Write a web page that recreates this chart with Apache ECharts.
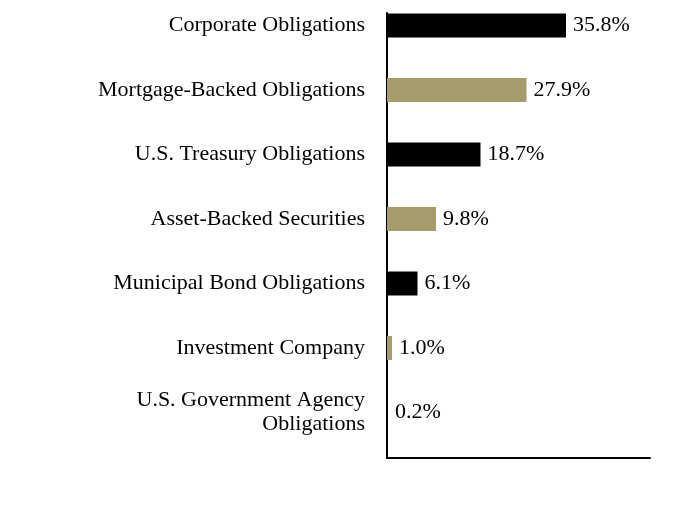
<!DOCTYPE html>
<html>
<head>
<meta charset="utf-8">
<script src="https://cdn.jsdelivr.net/npm/echarts@6/dist/echarts.min.js"></script>
<style>
  html, body { margin: 0; padding: 0; background: #fff; }
  #chart { width: 684px; height: 528px; }
</style>
</head>
<body>
<div id="chart"></div>
<script>
  // holdings by sector, % of total
  var categories = [
    'Corporate Obligations',
    'Mortgage-Backed Obligations',
    'U.S. Treasury Obligations',
    'Asset-Backed Securities',
    'Municipal Bond Obligations',
    'Investment Company',
    'U.S. Government Agency\nObligations'
  ];
  var values = [35.8, 27.9, 18.7, 9.8, 6.1, 1.0, 0.2];
  var barColors = ['#000000', '#A69B6B', '#000000', '#A69B6B', '#000000', '#A69B6B', '#000000'];

  var font = '"Liberation Serif", "DejaVu Serif", serif';

  var chart = echarts.init(document.getElementById('chart'));
  chart.setOption({
    animation: false,
    grid: [
      // bars
      { left: 387, top: -6.75, width: 263, height: 451.5, outerBoundsMode: 'none', containLabel: false },
      // frame lines (left + bottom)
      { left: 387, top: 13, width: 263, height: 445, outerBoundsMode: 'none', containLabel: false }
    ],
    xAxis: [
      {
        gridIndex: 0, type: 'value', min: 0, max: 52.6,
        axisLine: { show: false }, axisTick: { show: false },
        axisLabel: { show: false }, splitLine: { show: false }
      },
      {
        gridIndex: 1, type: 'value', min: 0, max: 1,
        axisLine: { show: true, lineStyle: { color: '#000', width: 2 } },
        axisTick: { show: false }, axisLabel: { show: false }, splitLine: { show: false }
      }
    ],
    yAxis: [
      {
        gridIndex: 0, type: 'category', inverse: true, data: categories,
        axisLine: { show: false }, axisTick: { show: false },
        axisLabel: {
          margin: 22, color: '#000', fontFamily: font, fontSize: 22,
          lineHeight: 24, align: 'right', padding: [6, 0, 0, 0]
        }
      },
      {
        gridIndex: 1, type: 'value', min: 0, max: 1,
        axisLine: { show: true, lineStyle: { color: '#000', width: 2 } },
        axisTick: { show: false }, axisLabel: { show: false }, splitLine: { show: false }
      }
    ],
    series: [{
      type: 'bar',
      xAxisIndex: 0, yAxisIndex: 0,
      barWidth: 24,
      data: values.map(function (v, i) {
        return { value: v, itemStyle: { color: barColors[i] } };
      }),
      label: {
        show: true, position: 'right', distance: 7,
        color: '#000', fontFamily: font, fontSize: 22, padding: [6, 0, 0, 0],
        formatter: function (p) { return p.value.toFixed(1) + '%'; }
      }
    }]
  });
</script>
</body>
</html>
